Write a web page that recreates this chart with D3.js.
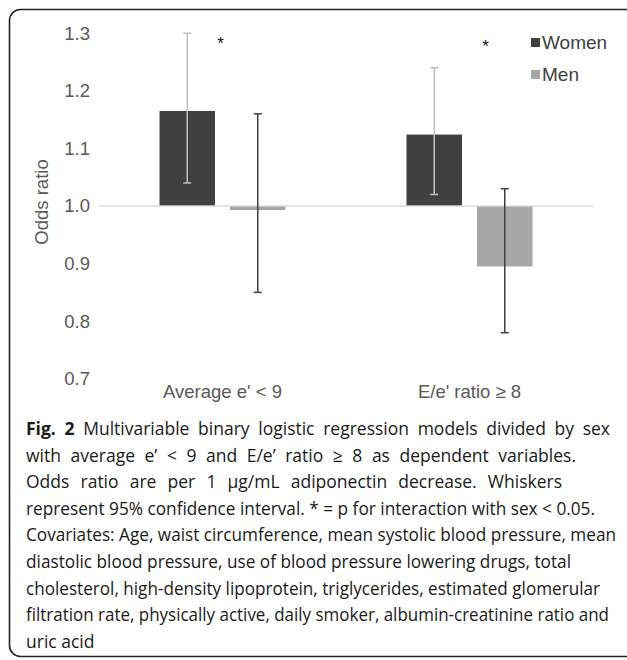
<!DOCTYPE html>
<html>
<head>
<meta charset="utf-8">
<script src="https://cdn.jsdelivr.net/npm/d3@7"></script>
<style>
  body { margin: 0; background: #fff; }
</style>
</head>
<body>
<div id="chart"></div>
<script>
// Data
const categories = ["Average e' < 9", "E/e' ratio \u2265 8"];
const series = ["Women", "Men"];
const women = [1.165, 1.124];
const womenLow = [1.04, 1.02];
const womenHigh = [1.30, 1.24];
const men = [0.993, 0.895];
const menLow = [0.85, 0.78];
const menHigh = [1.16, 1.03];
const starred = [true, true];
const yTicks = [0.7, 0.8, 0.9, 1.0, 1.1, 1.2, 1.3];
const captionLines = [
  "Multivariable binary logistic regression models divided by sex",
  "with average e\u2019 < 9 and E/e\u2019 ratio \u2265 8 as dependent variables.",
  "Odds ratio are per 1 \u03bcg/mL adiponectin decrease. Whiskers",
  "represent 95% confidence interval. * = p for interaction with sex < 0.05.",
  "Covariates: Age, waist circumference, mean systolic blood pressure, mean",
  "diastolic blood pressure, use of blood pressure lowering drugs, total",
  "cholesterol, high-density lipoprotein, triglycerides, estimated glomerular",
  "filtration rate, physically active, daily smoker, albumin-creatinine ratio and",
  "uric acid"
];
const captionRight = [610, 576, 562, 595, 616, 571, 600, 609, null];

const width = 627, height = 660;
const colors = { Women: "#404040", Men: "#a6a6a6" };
const whiskerColors = { Women: "#bfbfbf", Men: "#404040" };
const axisFont = "18.5px 'Liberation Sans', Arial, sans-serif";

const data = categories.map((c, i) => [
  { cat: c, key: "Women", value: women[i], lo: womenLow[i], hi: womenHigh[i] },
  { cat: c, key: "Men", value: men[i], lo: menLow[i], hi: menHigh[i] }
]).flat();

const svg = d3.select("#chart").append("svg")
  .attr("width", width)
  .attr("height", height);

// frame
svg.append("rect")
  .attr("x", 9.5).attr("y", 9.5)
  .attr("width", 630).attr("height", 647)
  .attr("rx", 11)
  .attr("fill", "none")
  .attr("stroke", "#222")
  .attr("stroke-width", 1.6);

const x = d3.scaleBand().domain(categories).range([99, 593]);
const xs = d3.scaleBand().domain(series).range([0, x.bandwidth()])
  .paddingInner(0.213).paddingOuter(0.858);
const y = d3.scaleLinear().domain([0.7, 1.3]).range([378.8, 33.2]);

// y axis labels
const yAxis = g => g
  .attr("transform", "translate(90,0)")
  .call(d3.axisLeft(y).tickValues(yTicks).tickFormat(d3.format(".1f")).tickSize(0).tickPadding(0))
  .call(g => g.select(".domain").remove())
  .call(g => g.selectAll("text")
    .attr("fill", "#595959")
    .style("font", axisFont));
svg.append("g").call(yAxis);

svg.append("text")
  .attr("transform", "translate(48,202) rotate(-90)")
  .attr("text-anchor", "middle")
  .attr("fill", "#595959")
  .style("font", axisFont)
  .text("Odds ratio");

// bars
svg.append("g").selectAll("rect")
  .data(data)
  .join("rect")
  .attr("x", d => x(d.cat) + xs(d.key))
  .attr("width", xs.bandwidth())
  .attr("y", d => y(Math.max(d.value, 1)))
  .attr("height", d => Math.abs(y(d.value) - y(1)))
  .attr("fill", d => colors[d.key]);

// baseline at 1.0
svg.append("line")
  .attr("x1", 99).attr("x2", 593)
  .attr("y1", y(1)).attr("y2", y(1))
  .attr("stroke", "#d9d9d9")
  .attr("stroke-width", 1.5);

// whiskers
const wk = svg.append("g").selectAll("g")
  .data(data)
  .join("g")
  .attr("stroke", d => whiskerColors[d.key])
  .attr("stroke-width", 1.5);
const cx = d => x(d.cat) + xs(d.key) + xs.bandwidth() / 2;
wk.append("line")
  .attr("x1", cx).attr("x2", cx)
  .attr("y1", d => y(d.lo)).attr("y2", d => y(d.hi));
wk.append("line")
  .attr("x1", d => cx(d) - 4).attr("x2", d => cx(d) + 4)
  .attr("y1", d => y(d.lo)).attr("y2", d => y(d.lo));
wk.append("line")
  .attr("x1", d => cx(d) - 4).attr("x2", d => cx(d) + 4)
  .attr("y1", d => y(d.hi)).attr("y2", d => y(d.hi));

// asterisks
svg.append("g").selectAll("text")
  .data(categories.filter((c, i) => starred[i]))
  .join("text")
  .attr("x", (d, i) => i === 0 ? x(d) + x.bandwidth() / 2 - 2 : x(d) + x.bandwidth() / 2 + 16)
  .attr("y", (d, i) => i === 0 ? 49 : 52)
  .attr("text-anchor", "middle")
  .attr("fill", "#111")
  .style("font", "17px 'Liberation Sans', Arial, sans-serif")
  .text("*");

// category labels
svg.append("g").selectAll("text")
  .data(categories)
  .join("text")
  .attr("x", d => x(d) + x.bandwidth() / 2)
  .attr("y", 398)
  .attr("text-anchor", "middle")
  .attr("fill", "#595959")
  .style("font", axisFont)
  .text(d => d);

// legend
const legend = svg.append("g").selectAll("g")
  .data(series)
  .join("g")
  .attr("transform", (d, i) => `translate(531,${38 + i * 32})`);
legend.append("rect")
  .attr("width", 9).attr("height", 9)
  .attr("fill", d => colors[d]);
legend.append("text")
  .attr("x", 11).attr("y", 11)
  .attr("fill", "#404040")
  .style("font", "19px 'Liberation Sans', Arial, sans-serif")
  .text(d => d);

// caption
const cap = svg.append("g")
  .style("font", "17.5px 'Open Sans', sans-serif")
  .attr("fill", "#1a1a1a");
captionLines.forEach((line, i) => {
  const t = cap.append("text")
    .attr("x", 26)
    .attr("y", 435 + i * 26.6);
  if (i === 0) {
    t.append("tspan").attr("font-weight", "bold").text("Fig. 2 ");
  }
  t.append("tspan").text(line);
  const target = captionRight[i];
  if (target) {
    const want = target - 26;
    const natural = t.node().getComputedTextLength();
    if (natural < want) {
      const spaces = ((i === 0 ? "Fig. 2 " : "") + line).split(" ").length - 1;
      t.attr("word-spacing", (want - natural) / spaces);
    } else {
      t.attr("textLength", want).attr("lengthAdjust", "spacingAndGlyphs");
    }
  }
});
</script>
</body>
</html>
